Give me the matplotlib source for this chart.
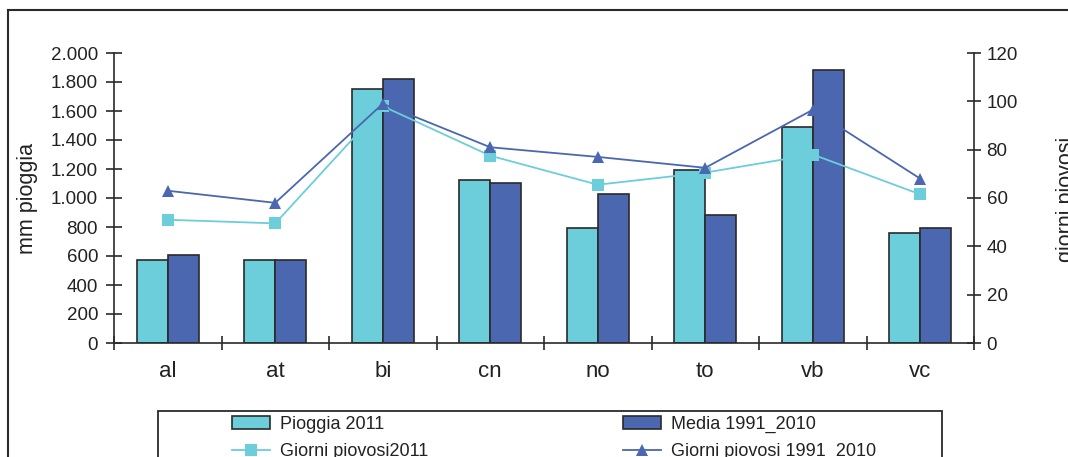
import numpy as np
import matplotlib
matplotlib.use("Agg")
import matplotlib.pyplot as plt
from matplotlib.ticker import FuncFormatter, MultipleLocator
from matplotlib.lines import Line2D

plt.rcParams["font.family"] = ["Liberation Sans", "DejaVu Sans"]

province = ["al", "at", "bi", "cn", "no", "to", "vb", "vc"]
pioggia_2011 = [570, 575, 1750, 1125, 790, 1195, 1490, 760]
media_1991_2010 = [605, 575, 1820, 1105, 1025, 880, 1880, 790]
giorni_2011 = [51, 49.5, 98, 77.5, 65.5, 70.5, 78, 61.5]
giorni_1991_2010 = [63, 58, 99, 81, 77, 72.5, 96.5, 68]

ciano = "#6ccddb"
blu = "#4a67b0"
bordo = "#2a2a2a"
testo = "#222222"

W, H = 1068, 457
fig = plt.figure(figsize=(W / 100, H / 100), dpi=100)
ax = fig.add_axes([114 / W, 1 - 343 / H, (974 - 114) / W, (343 - 53) / H])

x = np.arange(len(province))
w = 0.29
b1 = ax.bar(x - w / 2, pioggia_2011, w, color=ciano, edgecolor=bordo, linewidth=1.2,
            label="Pioggia 2011", zorder=2)
b2 = ax.bar(x + w / 2, media_1991_2010, w, color=blu, edgecolor=bordo, linewidth=1.2,
            label="Media 1991_2010", zorder=2)

ax.set_xlim(-0.5, len(province) - 0.5)
ax.set_ylim(0, 2000)
ax.yaxis.set_major_locator(MultipleLocator(200))
ax.yaxis.set_major_formatter(FuncFormatter(lambda v, p: f"{int(v):,}".replace(",", ".")))
ax.set_xticks(np.arange(-0.5, len(province), 1.0))
ax.set_xticklabels([])
ax.set_xticks(x, minor=True)
ax.set_xticklabels(province, minor=True, fontsize=16, color=testo)
ax.tick_params(axis="x", which="major", direction="inout", length=10, width=1.2, color=bordo)
ax.tick_params(axis="x", which="minor", length=0, pad=13)
ax.tick_params(axis="y", direction="inout", length=11, width=1.2, color=bordo,
               labelsize=13.5, labelcolor=testo, pad=6)

ax2 = ax.twinx()
l1, = ax2.plot(x, giorni_2011, color=ciano, linewidth=1.3, marker="s", markersize=9,
               markeredgewidth=0, label="Giorni piovosi2011")
l2, = ax2.plot(x, giorni_1991_2010, color=blu, linewidth=1.3, marker="^", markersize=8,
               markeredgewidth=0, label="Giorni piovosi 1991_2010")
ax2.set_ylim(0, 120)
ax2.yaxis.set_major_locator(MultipleLocator(20))
ax2.tick_params(axis="y", direction="inout", length=10, width=1.2, color=bordo,
                labelsize=13.5, labelcolor=testo, pad=4)

for a in (ax, ax2):
    a.spines["top"].set_visible(False)
    for s in ("left", "right", "bottom"):
        a.spines[s].set_color(bordo)
        a.spines[s].set_linewidth(1.2)
ax.spines["right"].set_visible(False)
ax2.spines["left"].set_visible(False)
ax2.spines["bottom"].set_visible(False)

fig.text(27 / W, 1 - 199 / H, "mm pioggia", rotation=90, ha="center", va="center",
         fontsize=15.5, color=testo)
fig.text(1056 / W, 1 - 199 / H, "giorni piovosi", rotation=90, ha="left", va="center",
         fontsize=15.5, color=testo)

# legenda a due colonne, cornice disegnata a parte
leg = fig.legend([b1, l1, b2, l2],
                 ["Pioggia 2011", "Giorni piovosi2011", "Media 1991_2010", "Giorni piovosi 1991_2010"],
                 ncol=2, loc="upper left", bbox_to_anchor=(232 / W, 1 - 416 / H),
                 frameon=False, fontsize=13, handlelength=2.1, handletextpad=0.55,
                 columnspacing=10.8, labelspacing=0.55, borderpad=0, borderaxespad=0)
for t in leg.get_texts():
    t.set_color(testo)

fig.add_artist(plt.Rectangle((158 / W, -0.2), (942 - 158) / W, 0.2 + 1 - 411 / H,
                             transform=fig.transFigure, fill=False, edgecolor=bordo,
                             linewidth=1.3))
# cornice esterna del grafico
fig.add_artist(Line2D([8 / W, 8 / W], [-0.1, 1 - 10 / H], transform=fig.transFigure,
                      color=bordo, linewidth=1.5))
fig.add_artist(Line2D([8 / W, 1.1], [1 - 10 / H, 1 - 10 / H], transform=fig.transFigure,
                      color=bordo, linewidth=1.5))

fig.savefig("out.png", dpi=100)
